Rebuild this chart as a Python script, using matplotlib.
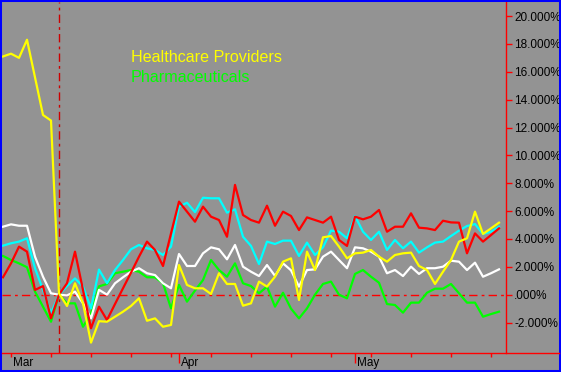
#!/usr/bin/env python3

import matplotlib
matplotlib.use("Agg")
import matplotlib.pyplot as plt
from matplotlib.patches import Rectangle
from matplotlib.lines import Line2D

# daily % change, one value per trading day
red = [1.25, 2.25, 3.45, 3.09, 0.34, 0.62, -1.7, 0.0, 0.82, 3.09, 0.34, -2.41, -0.86,
       -1.82, -0.67, 0.46, 1.58, 2.73, 3.81, 3.21, 2.06, 4.4, 6.68, 5.96, 5.24, 6.32,
       5.6, 5.36, 4.16, 7.88, 5.72, 5.36, 5.17, 6.39, 4.95, 5.96, 5.65, 4.64, 5.55,
       5.36, 5.17, 5.6, 3.93, 3.5, 5.6, 5.41, 5.6, 6.08, 4.52, 4.88, 4.88, 5.84, 4.81,
       4.76, 4.64, 5.31, 5.19, 5.17, 2.97, 4.4, 3.81, 4.28, 4.76]
cyan = [3.52, 3.69, 3.81, 4.05, 1.9, 0.34, -1.34, 0.0, 0.62, 1.17, 0.58, -0.98, 1.8,
        0.82, 1.77, 2.49, 3.26, 3.57, 3.33, 3.21, 2.85, 3.45, 6.32, 6.6, 5.93, 6.96,
        6.92, 6.92, 5.89, 6.13, 4.16, 3.5, 2.2, 3.81, 3.64, 3.88, 3.88, 2.78, 3.74,
        2.85, 3.4, 4.6, 4.52, 4.05, 5.65, 4.52, 3.93, 4.52, 3.21, 3.93, 3.33, 3.81,
        3.02, 3.4, 3.74, 3.81, 4.21, 4.6, 4.93, 5.07, 4.36, 4.52, 4.88]
white = [4.88, 5.05, 4.95, 4.95, 2.73, 1.29, 0.1, 0.0, -0.05, 0.22, -0.62, -1.7, 0.35,
         0.0, 0.82, 1.25, 1.65, 1.9, 1.54, 1.41, 0.82, 0.46, 2.92, 2.06, 2.06, 2.97,
         3.4, 3.26, 2.54, 3.57, 2.01, 1.65, 1.34, 2.13, 1.35, 2.25, 1.75, 0.58, 1.77,
         1.82, 2.73, 3.09, 2.49, 1.9, 3.4, 3.33, 3.09, 2.73, 1.54, 1.77, 1.34, 2.01,
         1.49, 1.9, 1.9, 2.01, 2.44, 2.37, 1.77, 2.3, 1.29, 1.54, 1.82]
pharma = [2.78, 2.49, 2.25, 1.97, 0.22, -0.86, -1.94, 0.03, -0.62, -0.62, -2.3, -1.34,
          0.6, 0.77, 1.54, 1.65, 1.77, 1.65, 1.25, 1.25, 0.82, -0.98, 0.7, -0.5, 0.3,
          1.05, 2.49, 1.77, 1.29, 2.25, 0.82, 0.62, 0.1, 0.58, -0.86, 0.14, -1.0, -1.7,
          -0.98, 0.0, 0.77, 0.94, 0.0, -0.26, 1.49, 1.77, 1.29, 0.86, -0.67, -0.74,
          -1.29, -0.57, -0.57, 0.14, 0.43, 0.43, 0.77, 0.1, -0.57, -0.57, -1.58, -1.39,
          -1.22]
providers = [17.1, 17.3, 17.0, 18.3, 15.6, 12.9, 12.5, 0.1, -0.81, 0.82, -0.62, -3.44,
             -1.9, -1.94, -1.58, -1.22, -0.81, -0.26, -1.87, -1.7, -2.3, -2.17, 2.13,
             0.7, 0.46, 0.46, 0.05, 1.54, 0.77, 0.77, -0.79, -0.62, 0.94, 0.58, 1.29,
             2.37, 2.61, -0.38, 3.09, 1.77, 4.12, 4.21, 3.45, 2.61, 2.97, 3.02, 3.21,
             2.73, 2.37, 2.85, 2.97, 3.02, 2.06, 1.77, 0.77, 1.65, 2.49, 3.81, 4.05,
             5.96, 4.36, 4.76, 5.17]

months = ["Mar", "Apr", "May"]
month_idx = [1, 22, 44]
week_idx = list(range(1, 63, 5))
marker_idx = 7
y_ticks = list(range(-2, 21, 2))

bg = "#939393"
W, H = 561, 372

plt.rcParams['font.family'] = ['Liberation Sans', 'DejaVu Sans']

fig = plt.figure(figsize=(W / 100, H / 100), dpi=100, facecolor=bg)
ax = fig.add_axes([2 / W, (H - 353) / H, 504 / W, 351 / H], facecolor=bg)

x = list(range(len(red)))
lw = 1.6
ax.plot(x, pharma, color="#00ff00", lw=lw, zorder=3)
ax.plot(x, white, color="white", lw=lw, zorder=4)
ax.plot(x, cyan, color="#00ffff", lw=lw, zorder=5)
ax.plot(x, red, color="#ff0000", lw=lw, zorder=6)
ax.plot(x, providers, color="#ffff00", lw=lw, zorder=7)

ax.axhline(0, color="#ff0000", lw=1, ls=(0, (6, 3, 2, 3)), zorder=2)
ax.axvline(marker_idx, color="#cc0000", lw=1, ls=(0, (6, 3, 2, 3)), zorder=2)

ax.set_xlim(-0.125, 62.875)
ax.set_ylim(-4.185, 21.01)

for s in ["left", "top", "bottom"]:
    ax.spines[s].set_visible(False)
ax.spines["right"].set_color("#ff0000")
ax.spines["right"].set_linewidth(1)

ax.yaxis.tick_right()
ax.set_yticks(y_ticks)
ax.set_yticklabels([(".000%" if v == 0 else f"{v:.3f}%") for v in y_ticks])
ax.tick_params(axis="y", colors="#ff0000", labelcolor="black", length=4, width=1,
               pad=2, labelsize=8.5)

ax.set_xticks(week_idx)
ax.set_xticks(month_idx, minor=True)
ax.set_xticklabels([])
ax.tick_params(axis="x", which="major", colors="#ff0000", length=3, width=1)
ax.tick_params(axis="x", which="minor", colors="#ff0000", length=7, width=1)
for m, i in zip(months, month_idx):
    ax.text(i + 0.2, -0.01, m, transform=ax.get_xaxis_transform(), ha="left",
            va="top", fontsize=8.5, color="black")

# bottom axis line runs the full width
fig.add_artist(Line2D([2 / W, 559 / W], [(H - 353) / H] * 2, color="#ff0000", lw=1))

fig.text(131 / W, (H - 62) / H, "Healthcare Providers", color="#ffff00", fontsize=11.6)
fig.text(131 / W, (H - 82) / H, "Pharmaceuticals", color="#00ff00", fontsize=11.6)

fig.add_artist(Rectangle((0, 0), 1, 1, transform=fig.transFigure, fill=False,
                         ec="#0000ff", lw=2.9))

plt.savefig("out.png", dpi=100, facecolor=bg)
